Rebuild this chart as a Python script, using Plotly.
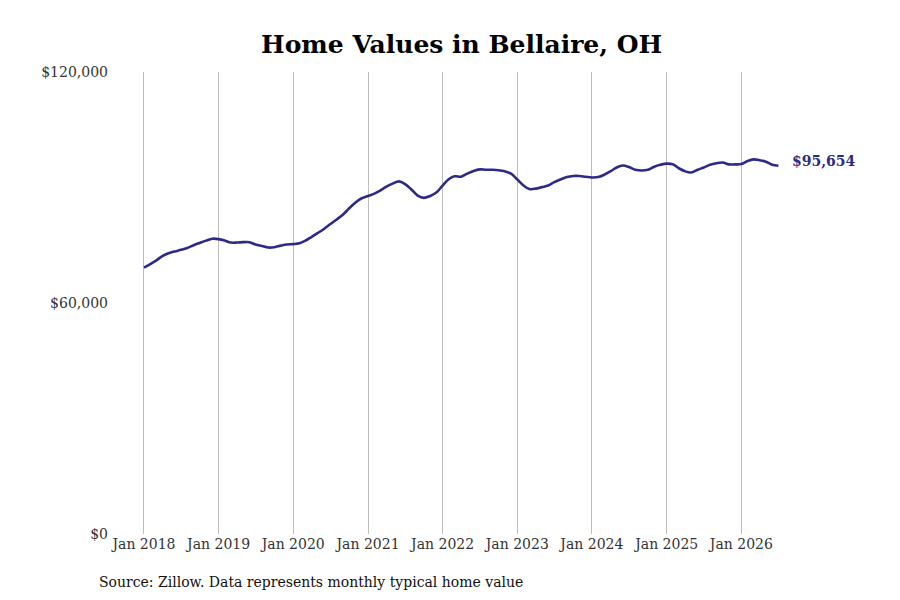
import pandas as pd
import plotly.graph_objects as go

# monthly typical home value, Jan 2018 - Jul 2026 (thousands of $)
months = pd.date_range("2018-01-01", "2026-07-01", freq="MS")
values_k = [
    69.2, 70.1, 71.0, 72.2, 72.9, 73.4, 73.8, 74.3, 75.0, 75.6, 76.2, 76.7,  # 2018
    76.6, 76.2, 75.7, 75.7, 75.8, 75.8, 75.2, 74.8, 74.4, 74.5, 74.9, 75.2,  # 2019
    75.3, 75.5, 76.2, 77.2, 78.2, 79.3, 80.5, 81.7, 83.0, 84.6, 86.1, 87.2,  # 2020
    87.8, 88.4, 89.2, 90.2, 91.0, 91.6, 90.9, 89.5, 87.9, 87.3, 87.8, 88.7,  # 2021
    90.5, 92.2, 92.9, 92.8, 93.6, 94.3, 94.7, 94.6, 94.6, 94.5, 94.2, 93.6,  # 2022
    92.1, 90.5, 89.6, 89.7, 90.1, 90.5, 91.4, 92.1, 92.7, 93.0, 93.0, 92.8,  # 2023
    92.6, 92.7, 93.3, 94.2, 95.2, 95.7, 95.3, 94.6, 94.4, 94.6, 95.4, 95.9,  # 2024
    96.2, 96.0, 95.0, 94.2, 93.9, 94.6, 95.2, 95.9, 96.3, 96.5, 96.0, 96.0,  # 2025
    96.1, 96.9, 97.3, 97.1, 96.7, 95.9, 95.654,                              # 2026
]
values = [v * 1000 for v in values_k]

y_ticks = [0, 60000, 120000]
title = "Home Values in Bellaire, OH"
source = "Source: Zillow. Data represents monthly typical home value"

line_color = "#2e2a88"
font = "DejaVu Serif"

fig = go.Figure()
fig.add_trace(go.Scatter(x=months, y=values, mode="lines",
                         line=dict(color=line_color, width=2.6, shape="spline"),
                         hoverinfo="x+y"))

# end-of-line value label
fig.add_annotation(x=months[-1], y=values[-1], text=f"<b>${values[-1]:,.0f}</b>",
                   showarrow=False, xanchor="left", yanchor="middle",
                   xshift=12, yshift=5, font=dict(family=font, size=14, color=line_color))

fig.add_annotation(x=-0.0176, y=-0.104, xref="paper", yref="paper", text=source,
                   showarrow=False, xanchor="left", yanchor="middle",
                   font=dict(family=font, size=14, color="#111"))

fig.update_layout(
    width=900, height=600,
    margin=dict(l=101, r=118, t=64, b=74),
    paper_bgcolor="white", plot_bgcolor="white",
    showlegend=False,
    title=dict(text=f"<b>{title}</b>", x=0.504, xref="container", xanchor="center",
               y=0.94, yref="container", yanchor="middle",
               font=dict(family=font, size=25, color="#000")),
    font=dict(family=font, size=14, color="#333"),
)
fig.update_xaxes(range=["2017-07-14", "2026-08-27"], tick0="2018-01-01", dtick="M12",
                 tickformat="%b %Y", showgrid=True, gridcolor="#bdbdbd", gridwidth=1,
                 showline=False, zeroline=False, ticks="", ticklabelstandoff=0,
                 tickfont=dict(family=font, size=14, color="#333"))
fig.update_yaxes(range=[0, 120000], tickvals=y_ticks, tickformat="$,.0f",
                 showgrid=False, showline=False, zeroline=False, ticks="",
                 tickfont=dict(family=font, size=14, color="#333"))

fig.write_html("out.html")
